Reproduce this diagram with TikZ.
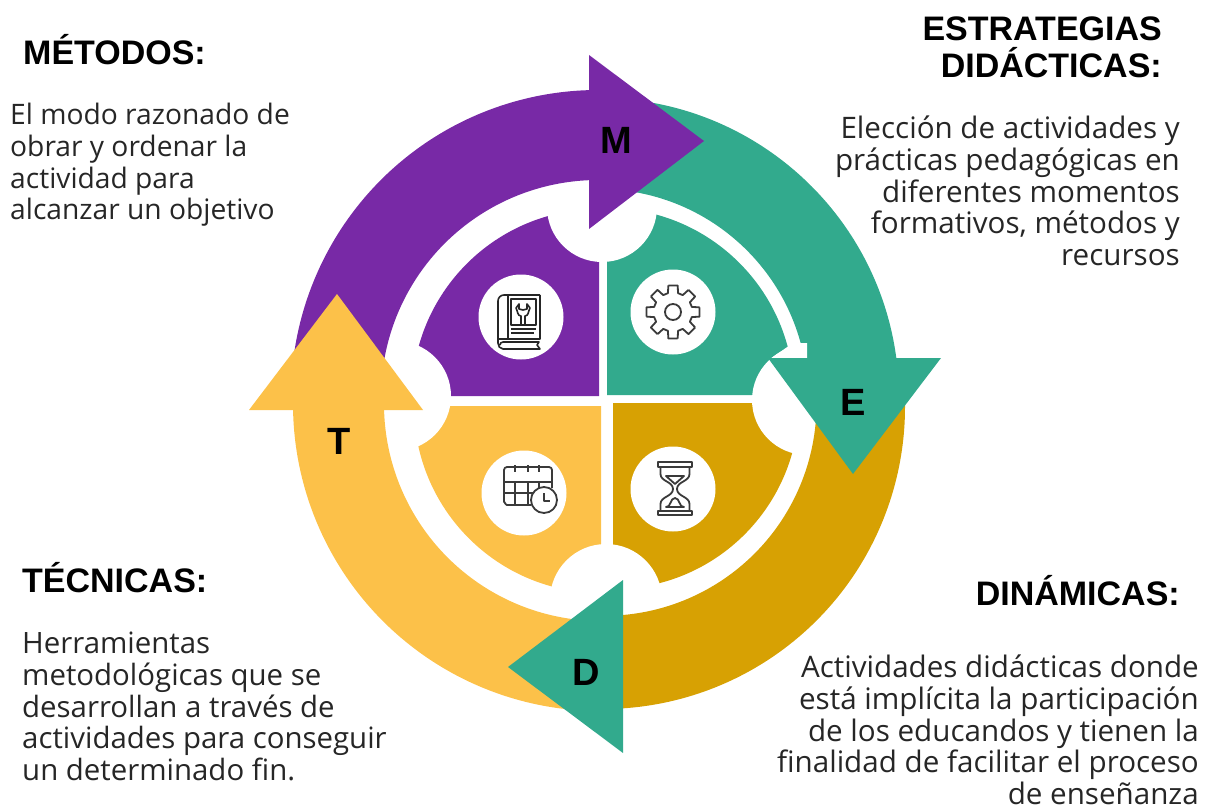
\documentclass[tikz,border=0pt]{standalone}
\usepackage{fontspec}
\setmainfont{Open Sans}
\newfontfamily\headfont{Liberation Sans}
\definecolor{cpurple}{HTML}{7829A6}
\definecolor{cteal}{HTML}{32AA8D}
\definecolor{cgold}{HTML}{D7A103}
\definecolor{cyellow}{HTML}{FCC149}
\definecolor{cicon}{HTML}{3A3A3A}
\tikzset{
  head/.style={font=\headfont\bfseries\fontsize{34}{37}\selectfont,inner sep=0pt,text=black},
  bodytxt/.style={font=\fontsize{#1}{31.7}\selectfont,inner sep=0pt,text=black!85},
  letter/.style={font=\headfont\bfseries\fontsize{38}{38}\selectfont,inner sep=0pt,text=black},
  disc/.style={fill=white,draw=none},
  iconline/.style={draw=cicon,line width=1.8pt,line join=round,fill=none},
  bookline/.style={draw=black!85,line width=1.6pt,line join=round,fill=none}
}
\begin{document}
\begin{tikzpicture}[x=1pt,y=-1pt]
\useasboundingbox (0,0) rectangle (1211,808);
% quadrants
\fill[cpurple] (599,396) -- (412,396) arc[start angle=180,end angle=90,x radius=187,y radius=-187] -- cycle;
\fill[cteal] (607,395) -- (607,208) arc[start angle=90,end angle=0,x radius=187,y radius=-187] -- cycle;
\fill[cyellow] (601,406) -- (601,593) arc[start angle=270,end angle=180,x radius=187,y radius=-187] -- cycle;
\fill[cgold] (613,403) -- (799,403) arc[start angle=0,end angle=-90,x radius=186,y radius=-186] -- cycle;
% notches
\fill[disc] (602,207) circle[radius=55];
\fill[disc] (807,400) circle[radius=55];
\fill[disc] (606,600) circle[radius=56];
\fill[disc] (396,396) circle[radius=55];
% bands
\fill[cgold] ({603+302*cos(8)},{407-302*sin(8)}) arc[start angle=8,end angle=-91,x radius=302,y radius=-302]
  -- (623,{403+212}) arc[start angle=-85,end angle=8,x radius=212,y radius=-212] -- cycle;
\fill[cyellow] ({600+307*cos(-88)},{404-307*sin(-88)}) arc[start angle=-88,end angle=-180,x radius=307,y radius=-307]
  -- ({601-217},404) arc[start angle=-180,end angle=-88,x radius=217,y radius=-217] -- cycle;
\fill[cteal] (599,98) arc[start angle=90,end angle=5,x radius=300,y radius=-300]
  -- ({599+209*cos(5)},{398-209*sin(5)}) arc[start angle=5,end angle=90,x radius=209,y radius=-209] -- cycle;
\fill[cpurple] ({598-307},397) arc[start angle=180,end angle=89,x radius=307,y radius=-307]
  -- ({598+217*cos(89)},{397-217*sin(89)}) arc[start angle=89,end angle=180,x radius=217,y radius=-217] -- cycle;
% small white tip of inner arrow
\fill[white] (793,343) -- (807,343) -- (807,359) -- (770,359) -- cycle;
% arrow heads
\fill[cyellow] (337,294) -- (423,410) -- (249,410) -- cycle;
\fill[cteal] (623,580) -- (623,753) -- (508,667) -- cycle;
\fill[cteal] (768,358) -- (941,358) -- (853,474) -- cycle;
\fill[cpurple] (589,55) -- (704,141) -- (589,229) -- cycle;
% letters
\node[letter] (lm) at (616,140) {M};
\node[letter] (le) at (853,402) {E};
\node[letter] (lt) at (339,441) {T};
\node[letter] (ld) at (586,672) {D};
% icon discs
\fill[disc] (521,317) circle[radius=42.5];
\fill[disc] (673,312) circle[radius=42.5];
\fill[disc] (524,493) circle[radius=42.5];
\fill[disc] (673,489) circle[radius=42.5];
% book icon
\begin{scope}[shift={(498,295)}]
\draw[bookline] (42,0) -- (6,0) to[out=180,in=90] (0,6) -- (0,48) to[out=-90,in=180] (5,54) -- (42,54) -- (39,50) -- (41,47) -- (5,47) to[out=180,in=90] (2,50);
\draw[bookline] (42,0) -- (42,44) -- (0,44);
\draw[bookline] (10,0) -- (10,44);
\draw[bookline] (13,4) rectangle (38,30);
\draw[bookline] (13,34) -- (38,34) (13,38) -- (36,38);
\draw[bookline] (23,30) -- (23,21) to[out=180,in=-60] (18,13) -- (21,9) -- (21,14) -- (25,15) -- (29,14) -- (29,9) -- (32,13) to[out=-120,in=0] (27,21) -- (27,30);
\end{scope}
% gear icon
\begin{scope}[shift={(673,312)}]
\draw[iconline] (0,0) circle[radius=8];
\draw[iconline] \foreach \a in {0,45,...,315} {
  ({\a-10}:27) -- ({\a+10}:27) -- ({\a+15}:19.5) -- ({\a+30}:19.5) -- ({\a+35}:27)
};
\end{scope}
% calendar icon
\begin{scope}[shift={(504,466)}]
\draw[iconline] (27,39) -- (3,39) to[out=180,in=90] (0,36) -- (0,4) to[out=90,in=180] (3,1) -- (45,1) to[out=0,in=90] (48,4) -- (48,22);
\draw[iconline] (11,-1) -- (11,6) (24,-1) -- (24,6) (35,-1) -- (35,6);
\draw[iconline] (0,16) -- (48,16) (0,27) -- (31,27);
\draw[iconline] (11,16) -- (11,39) (24,16) -- (24,39) (35,16) -- (35,23);
\draw[iconline,fill=white] (40,34) circle[radius=13];
\draw[iconline] (40,27) -- (40,35) -- (46,35);
\end{scope}
% hourglass icon
\begin{scope}[shift={(675,489)}]
\draw[iconline] (-17,-27) rectangle (17,-22);
\draw[iconline] (-17,22) rectangle (17,26);
\draw[iconline] (-14.5,-22) -- (-14.5,-15) to[out=-90,in=90] (-2,0) to[out=-90,in=90] (-14.5,15) -- (-14.5,22);
\draw[iconline] (14.5,-22) -- (14.5,-15) to[out=-90,in=90] (2,0) to[out=-90,in=90] (14.5,15) -- (14.5,22);
\draw[iconline] (-9,-13) -- (9,-13) -- (0,-5) -- cycle;
\draw[iconline] (-9,18) to[out=-10,in=180] (0,9) to[out=0,in=190] (9,18) -- cycle;
\end{scope}
% headings
\node[head,anchor=west] (h1) at (23,50) {MÉTODOS:};
\node[head,anchor=east,align=right] (h2) at (1162,47.5) {ESTRATEGIAS\\DIDÁCTICAS:};
\node[head,anchor=west] (h3) at (22,578) {TÉCNICAS:};
\node[head,anchor=east] (h4) at (1180,591) {DINÁMICAS:};
% bodies
\node[bodytxt=28.2,anchor=north west,align=left] (b1) at (10,103) {El modo razonado de\\obrar y ordenar la\\actividad para\\alcanzar un objetivo};
\node[bodytxt=29.6,anchor=north east,align=right] (b2) at (1180,116) {Elección de actividades y\\prácticas pedagógicas en\\diferentes momentos\\formativos, métodos y\\recursos};
\node[bodytxt=29.4,anchor=north west,align=left] (b3) at (22,632) {Herramientas\\metodológicas que se\\desarrollan a través de\\actividades para conseguir\\un determinado fin.};
\node[bodytxt=29.6,anchor=north east,align=right] (b4) at (1199,655) {Actividades didácticas donde\\está implícita la participación\\de los educandos y tienen la\\finalidad de facilitar el proceso\\de enseñanza};
\end{tikzpicture}
\end{document}
